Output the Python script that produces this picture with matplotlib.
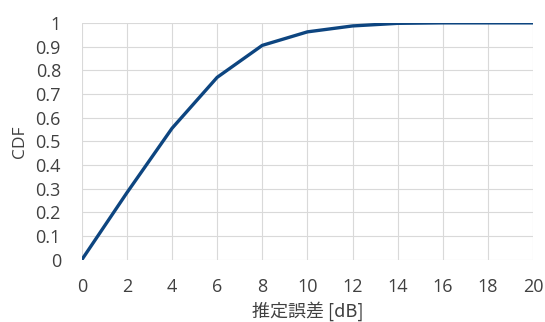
import matplotlib
matplotlib.use("Agg")
import matplotlib.pyplot as plt

x_vals = [0, 2, 4, 6, 8, 10, 12, 14, 16, 18, 20]
cdf_vals = [0.0, 0.283, 0.555, 0.77, 0.905, 0.962, 0.987, 0.998, 1.0, 1.0, 1.0]
x_ticks = list(range(0, 21, 2))
y_ticks = [i / 10 for i in range(11)]
y_labels = ["0", "0.1", "0.2", "0.3", "0.4", "0.5", "0.6", "0.7", "0.8", "0.9", "1"]

plt.rcParams['font.family'] = ['Open Sans', 'Noto Sans CJK JP', 'DejaVu Sans']

fig = plt.figure(figsize=(5.45, 3.22), dpi=100)
ax = fig.add_axes([0.150, 0.193, 0.828, 0.736])
ax.plot(x_vals, cdf_vals, color='#0d4580', linewidth=2.4, solid_capstyle='round')
ax.set_xlim(0, 20)
ax.set_ylim(0, 1)
ax.set_xticks(x_ticks)
ax.set_yticks(y_ticks)
ax.set_yticklabels(y_labels)
ax.grid(True, color='#d9d9d9', linewidth=0.8)
ax.set_axisbelow(True)
for s in ax.spines.values():
    s.set_visible(False)
ax.tick_params(axis='x', length=0, labelsize=13, colors='#404040', pad=13)
ax.tick_params(axis='y', length=0, labelsize=13, colors='#404040', pad=15)
ax.set_xlabel('推定誤差 [dB]', fontsize=13, color='#404040', labelpad=4,
              family=['Noto Sans CJK JP', 'DejaVu Sans'])
ax.set_ylabel('CDF', fontsize=12.5, color='#404040', labelpad=5)
fig.savefig('out.png', dpi=100)
